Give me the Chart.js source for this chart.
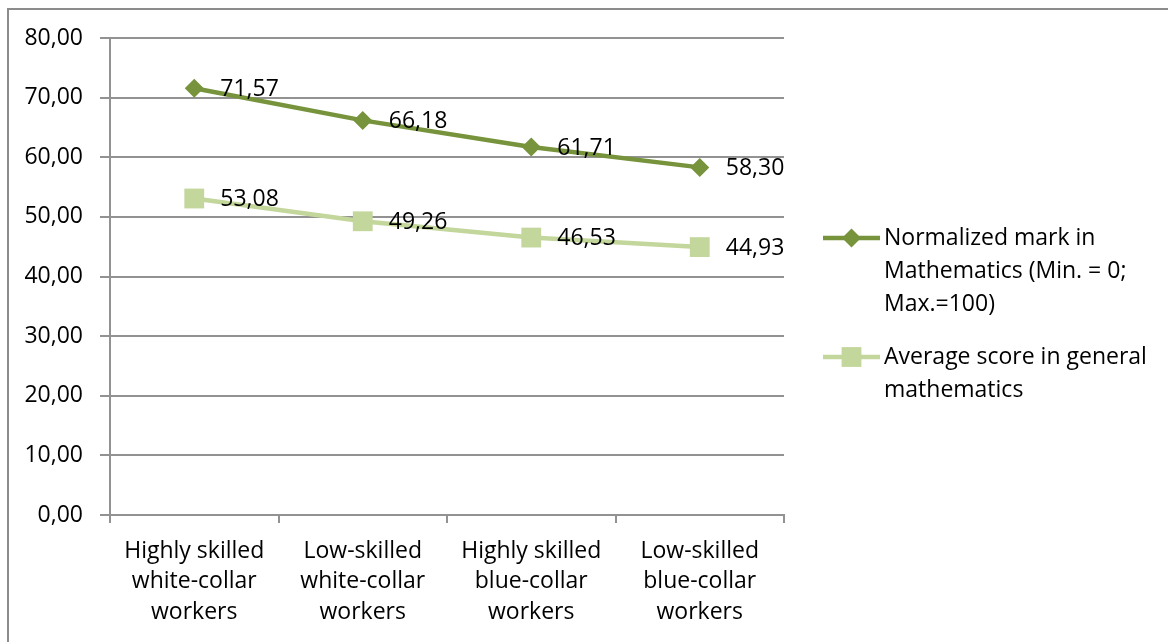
<!DOCTYPE html>
<html>
<head>
<meta charset="utf-8">
<script src="https://cdn.jsdelivr.net/npm/chart.js@4/dist/chart.umd.min.js"></script>
<style>
  html, body { margin: 0; padding: 0; background: #fff; }
  canvas { display: block; }
</style>
</head>
<body>
<canvas id="c" width="1168" height="642"></canvas>
<script>
// Occupational groups on the x axis
const categories = [
  ["Highly skilled", "white-collar", "workers"],
  ["Low-skilled", "white-collar", "workers"],
  ["Highly skilled", "blue-collar", "workers"],
  ["Low-skilled", "blue-collar", "workers"]
];

// Series values
const normalizedMark = [71.57, 66.18, 61.71, 58.30];
const averageScore = [53.08, 49.26, 46.53, 44.93];

// Legend text, wrapped as shown
const legendLines = [
  ["Normalized mark in", "Mathematics (Min. = 0;", "Max.=100)"],
  ["Average score in general", "mathematics"]
];

// Value axis range
const yMin = 0, yMax = 80, yStep = 10;

const FONT = "'Open Sans', sans-serif";
const FONT_SIZE = 23;
const GRID = '#929292';
const DARK = '#77933C';
const LIGHT = '#C3D69B';

const fmt = v => v.toFixed(2).replace('.', ',');

// White background with a frame on the top and left edges
const framePlugin = {
  id: 'frame',
  beforeDraw(chart) {
    const ctx = chart.ctx;
    ctx.save();
    ctx.fillStyle = '#fff';
    ctx.fillRect(0, 0, chart.width, chart.height);
    ctx.strokeStyle = '#8c8c8c';
    ctx.lineWidth = 2;
    ctx.beginPath();
    ctx.moveTo(8, chart.height);
    ctx.lineTo(8, 9);
    ctx.lineTo(chart.width, 9);
    ctx.stroke();
    ctx.restore();
  }
};

// Value labels to the right of every point
const valueLabels = {
  id: 'valueLabels',
  afterDatasetsDraw(chart) {
    const ctx = chart.ctx;
    ctx.save();
    ctx.font = FONT_SIZE + 'px ' + FONT;
    ctx.fillStyle = '#000';
    ctx.textAlign = 'left';
    ctx.textBaseline = 'middle';
    chart.data.datasets.forEach((ds, i) => {
      chart.getDatasetMeta(i).data.forEach((pt, j) => {
        ctx.fillText(fmt(ds.data[j]), pt.x + 26, pt.y + 1);
      });
    });
    ctx.restore();
  }
};

// Legend on the right with wrapped text
const sideLegend = {
  id: 'sideLegend',
  afterDraw(chart) {
    const ctx = chart.ctx;
    const x0 = 823, x1 = 880, tx = 884, lh = 33;
    const tops = [238, 357];
    ctx.save();
    chart.data.datasets.forEach((ds, i) => {
      const y = tops[i];
      ctx.strokeStyle = ds.borderColor;
      ctx.lineWidth = ds.borderWidth;
      ctx.beginPath();
      ctx.moveTo(x0, y);
      ctx.lineTo(x1, y);
      ctx.stroke();
      ctx.fillStyle = ds.pointBackgroundColor;
      Chart.helpers.drawPoint(ctx, {
        pointStyle: ds.pointStyle,
        radius: ds.pointRadius,
        borderWidth: 0,
        rotation: 0
      }, (x0 + x1) / 2, y);
      ctx.fillStyle = '#000';
      ctx.font = FONT_SIZE + 'px ' + FONT;
      ctx.textAlign = 'left';
      ctx.textBaseline = 'middle';
      legendLines[i].forEach((t, k) => ctx.fillText(t, tx, y + k * lh));
    });
    ctx.restore();
  }
};

new Chart(document.getElementById('c'), {
  type: 'line',
  data: {
    labels: categories,
    datasets: [
      {
        label: legendLines[0].join(' '),
        data: normalizedMark,
        borderColor: DARK,
        backgroundColor: DARK,
        pointBackgroundColor: DARK,
        pointBorderColor: DARK,
        borderWidth: 4.5,
        pointStyle: 'rectRot',
        pointRadius: 9.5,
        pointBorderWidth: 0,
        pointHoverRadius: 9.5,
        tension: 0,
        fill: false
      },
      {
        label: legendLines[1].join(' '),
        data: averageScore,
        borderColor: LIGHT,
        backgroundColor: LIGHT,
        pointBackgroundColor: LIGHT,
        pointBorderColor: LIGHT,
        borderWidth: 4.5,
        pointStyle: 'rect',
        pointRadius: 14,
        pointBorderWidth: 0,
        pointHoverRadius: 14,
        tension: 0,
        fill: false
      }
    ]
  },
  options: {
    responsive: false,
    devicePixelRatio: 1,
    animation: false,
    layout: { padding: { left: 0, top: 38, right: 384, bottom: 0 } },
    plugins: {
      legend: { display: false },
      tooltip: { enabled: false }
    },
    scales: {
      x: {
        type: 'category',
        offset: true,
        afterFit: s => { s.height = 127; },
        border: { color: GRID, width: 2 },
        grid: {
          offset: true,
          drawOnChartArea: false,
          drawTicks: true,
          tickLength: 8,
          color: GRID,
          lineWidth: 2
        },
        ticks: {
          color: '#000',
          font: { family: FONT, size: FONT_SIZE, lineHeight: 1.33 },
          padding: 13,
          maxRotation: 0,
          autoSkip: false
        }
      },
      y: {
        min: yMin,
        max: yMax,
        afterFit: s => { s.width = 110; },
        border: { color: GRID, width: 2 },
        grid: {
          color: GRID,
          lineWidth: 2,
          tickLength: 10
        },
        ticks: {
          stepSize: yStep,
          color: '#000',
          padding: 17,
          font: { family: FONT, size: FONT_SIZE },
          callback: v => fmt(v)
        }
      }
    }
  },
  plugins: [framePlugin, valueLabels, sideLegend]
});
</script>
</body>
</html>
